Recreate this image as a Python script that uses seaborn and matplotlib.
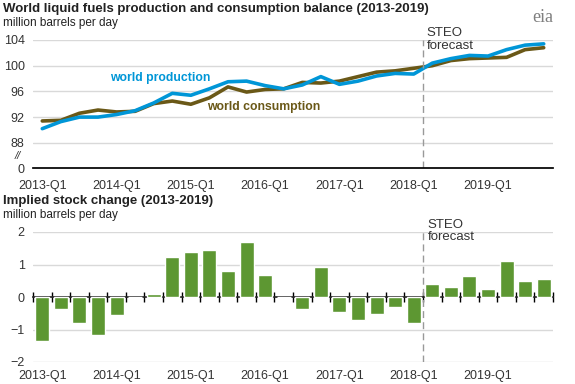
import numpy as np
import pandas as pd
import matplotlib
matplotlib.use("Agg")
import matplotlib.pyplot as plt
import seaborn as sns

# quarters 2013-Q1 .. 2019-Q4
quarters = [f"{y}-Q{q}" for y in range(2013, 2020) for q in range(1, 5)]

production = [90.2, 91.3, 92.0, 92.0, 92.4, 93.0, 94.2, 95.7, 95.4, 96.4, 97.5, 97.6, 96.9, 96.4,
              97.0, 98.3, 97.1, 97.6, 98.4, 98.8, 98.7, 100.4, 101.1, 101.6, 101.5, 102.5, 103.2, 103.4]
consumption = [91.4, 91.5, 92.6, 93.1, 92.8, 92.9, 94.1, 94.5, 94.0, 95.0, 96.7, 95.9, 96.3, 96.4,
               97.4, 97.3, 97.6, 98.3, 99.0, 99.2, 99.6, 100.0, 100.8, 101.1, 101.2, 101.3, 102.5, 102.8]
stock_change = [-1.34, -0.38, -0.79, -1.16, -0.56, 0.0, 0.10, 1.24, 1.39, 1.46, 0.79, 1.70, 0.69, 0.0,
                -0.38, 0.93, -0.47, -0.72, -0.53, -0.32, -0.81, 0.41, 0.32, 0.66, 0.26, 1.12, 0.50, 0.56]
forecast_start = 20.5  # between 2018-Q1 and 2018-Q2

top_ticks = [84, 88, 92, 96, 100, 104]
top_ticklabels = ["0", "88", "92", "96", "100", "104"]

BLUE = "#0096d7"
BROWN = "#6a5817"
GREEN = "#5d9732"
GRID = "#d9d9d9"
TXT = "#333333"

sns.set_theme(style="white")
plt.rcParams["font.family"] = ["Liberation Sans", "DejaVu Sans"]

df = pd.DataFrame({"quarter": quarters, "idx": np.arange(len(quarters)),
                   "production": production, "consumption": consumption,
                   "stock": stock_change})

fig = plt.figure(figsize=(5.75, 3.84), dpi=100)
ax1 = fig.add_axes([33 / 575, 1 - 168.5 / 384, 520 / 575, 128.5 / 384])
ax2 = fig.add_axes([33 / 575, 1 - 362 / 384, 520 / 575, 130 / 384])

label_pos = np.arange(0, len(quarters), 4)
bounds = np.arange(len(quarters) + 1) - 0.5

# --- top chart ---
sns.lineplot(data=df, x="idx", y="consumption", color=BROWN, lw=2.6, ax=ax1)
sns.lineplot(data=df, x="idx", y="production", color=BLUE, lw=2.6, ax=ax1)
ax1.set_xlim(-0.5, len(quarters) - 0.5)
ax1.set_ylim(84, 104)
ax1.set_yticks(top_ticks)
ax1.set_yticklabels(top_ticklabels)
for y in top_ticks[1:]:
    ax1.axhline(y, color=GRID, lw=1, zorder=0)
ax1.set_xticks(bounds, minor=True)
ax1.set_xticks(label_pos)
ax1.set_xticklabels([quarters[i] for i in label_pos])
ax1.tick_params(axis="x", which="major", length=0, pad=8, labelsize=9, colors=TXT)
ax1.tick_params(axis="x", which="minor", length=4, width=1, direction="out", color="black")
ax1.tick_params(axis="y", length=0, pad=6, labelsize=9, colors=TXT)
ax1.set_xlabel("")
ax1.set_ylabel("")
for s in ["top", "right", "left"]:
    ax1.spines[s].set_visible(False)
ax1.spines["bottom"].set_color("black")
ax1.axvline(forecast_start, color="#999999", lw=1, ls=(0, (5, 3)))
ax1.text(-0.029, 86.0, "//", transform=ax1.get_yaxis_transform(), fontsize=8, color=TXT,
         ha="center", va="center", style="italic")
ax1.text(3.66, 98.05, "world production", color=BLUE, fontsize=8.8, fontweight="bold", va="center")
ax1.text(8.87, 93.5, "world consumption", color=BROWN, fontsize=8.8, fontweight="bold", va="center")
ax1.text(20.7, 104.1, "STEO\nforecast", fontsize=9.5, color=TXT, va="center", linespacing=1.1)

# --- bottom chart ---
sns.barplot(data=df, x="quarter", y="stock", color=GREEN, saturation=1, width=0.75, ax=ax2)
ax2.set_xlim(-0.5, len(quarters) - 0.5)
ax2.set_ylim(-2, 2)
ax2.set_yticks([-2, -1, 0, 1, 2])
for y in [-2, -1, 1, 2]:
    ax2.axhline(y, color=GRID, lw=1, zorder=0)
ax2.set_xticks(label_pos)
ax2.set_xticklabels([quarters[i] for i in label_pos])
ax2.tick_params(axis="x", length=0, pad=6, labelsize=9, colors=TXT)
ax2.tick_params(axis="y", length=0, pad=6, labelsize=9, colors=TXT)
ax2.set_xlabel("")
ax2.set_ylabel("")
for s in ["top", "right", "left", "bottom"]:
    ax2.spines[s].set_visible(False)
zero_axis = ax2.secondary_xaxis(0.5)
zero_axis.set_xticks(bounds)
zero_axis.set_xticklabels([])
zero_axis.tick_params(direction="inout", length=7, width=1, color="black")
zero_axis.spines["bottom"].set_color("black")
zero_axis.spines["bottom"].set_linewidth(1.2)
ax2.axvline(forecast_start, color="#999999", lw=1, ls=(0, (5, 3)))
ax2.text(20.75, 2.03, "STEO\nforecast", fontsize=9.5, color=TXT, va="center", linespacing=1.1)

# titles
fig.text(3 / 575, 1 - 9 / 384, "World liquid fuels production and consumption balance (2013-2019)",
         fontsize=9.5, fontweight="bold", va="center", color="#222222")
fig.text(3 / 575, 1 - 23 / 384, "million barrels per day", fontsize=8.5, va="center", color="#222222")
fig.text(3 / 575, 1 - 201 / 384, "Implied stock change (2013-2019)",
         fontsize=9.5, fontweight="bold", va="center", color="#222222")
fig.text(3 / 575, 1 - 215 / 384, "million barrels per day", fontsize=8.5, va="center", color="#222222")
fig.text(543 / 575, 1 - 18 / 384, "eia", fontsize=13, family="Liberation Serif", color="#7f7f7f",
         ha="center", va="center")

fig.savefig("out.png", dpi=100)
